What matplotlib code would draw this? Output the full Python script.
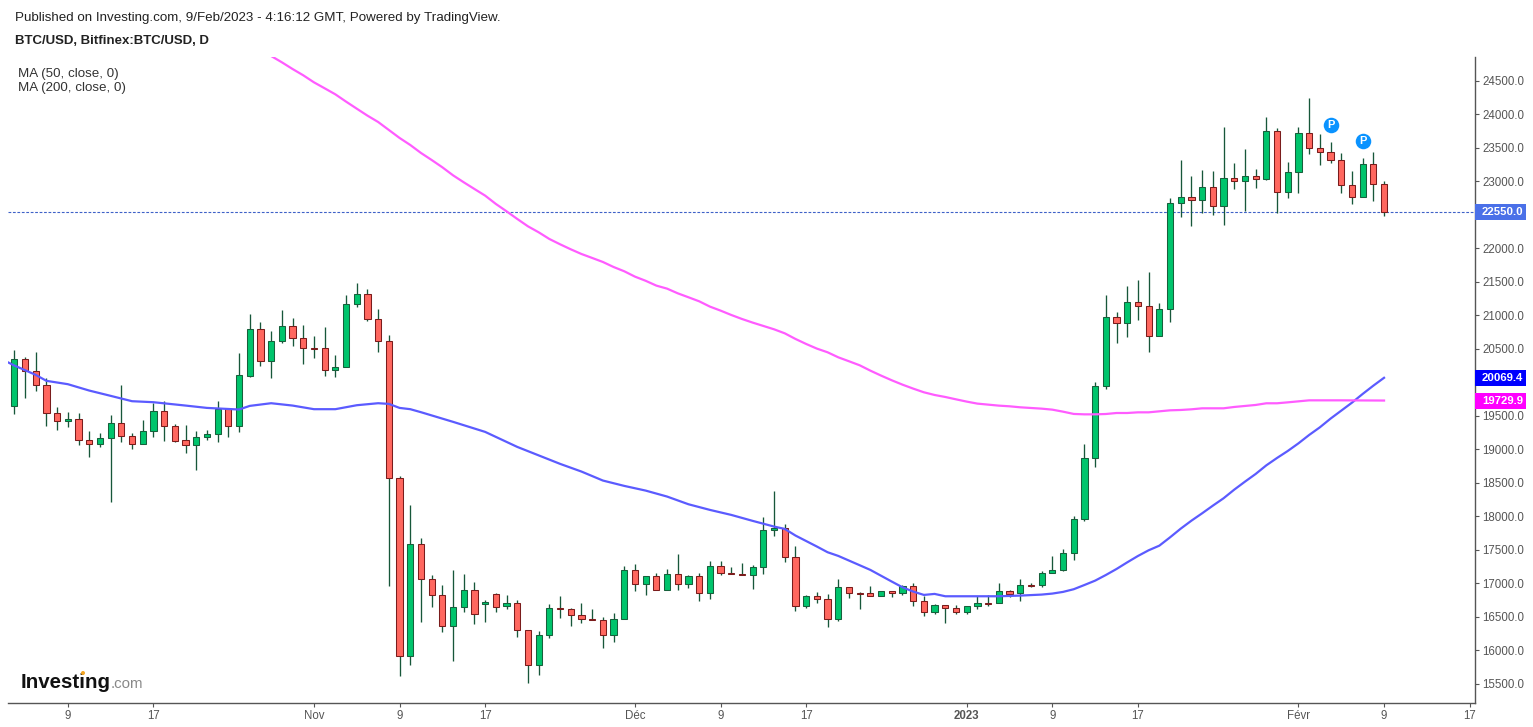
import matplotlib
matplotlib.use("Agg")
import matplotlib.pyplot as plt
from matplotlib.patches import Rectangle, Ellipse

plt.rcParams['font.family'] = ['Liberation Sans', 'DejaVu Sans']

W, H = 1533, 727

# daily candles, 4 Oct 2022 -> 9 Feb 2023
opens = [19645, 20347, 20168, 19959, 19541, 19421, 19451, 19138, 19078, 19168,
         19392, 19197, 19078, 19272, 19571, 19347, 19138, 19063, 19183, 19227,
         19601, 19347, 20103, 20795, 20317, 20616, 20840, 20661, 20511, 20511,
         20183, 20228, 21168, 21318, 20944, 20616, 18570, 15913, 17585, 17063,
         16824, 16361, 16644, 16898, 16689, 16839, 16659, 16704, 16301, 15778,
         16226, 16630, 16615, 16525, 16465, 16450, 16226, 16465, 17197, 16988,
         17107, 16898, 17137, 16988, 17107, 16854, 17257, 17152, 17137, 17122,
         17242, 17794, 17824, 17391, 16660, 16809, 16764, 16466, 16943, 16854,
         16854, 16809, 16884, 16854, 16958, 16734, 16570, 16675, 16630, 16570,
         16660, 16705, 16705, 16884, 16854, 16973, 16973, 17152, 17197, 17451,
         17958, 18869, 19944, 20974, 20885, 21198, 21139, 20691, 21094, 22676,
         22765, 22721, 22915, 22631, 23049, 23004, 23079, 23034, 23751, 22840,
         23139, 23721, 23497, 23437, 23318, 22945, 22765, 23258, 22960]
highs = [20486, 20377, 20452, 20063, 19635, 19561, 19546, 19277, 19247, 19516,
         19964, 19242, 19441, 19700, 19725, 19382, 19367, 19272, 19292, 19725,
         19616, 20442, 21024, 20905, 20770, 21084, 20964, 20860, 20696, 20830,
         20412, 21308, 21482, 21397, 21099, 20710, 18605, 18172, 17675, 17122,
         16973, 17202, 17142, 17023, 16749, 16854, 16824, 16749, 16301, 16286,
         16689, 16814, 16630, 16704, 16615, 16495, 16555, 17257, 17287, 17107,
         17152, 17212, 17436, 17122, 17152, 17331, 17331, 17242, 17301, 17272,
         17988, 18376, 17884, 17556, 16824, 16869, 16839, 17063, 16943, 16879,
         16958, 16894, 16884, 16973, 17003, 16809, 16690, 16675, 16675, 16660,
         16809, 16824, 17003, 16899, 17063, 17008, 17182, 17406, 17511, 18003,
         19078, 20004, 21303, 21049, 21437, 21527, 21646, 21183, 22750, 23318,
         23079, 23169, 23154, 23811, 23273, 23482, 23183, 23960, 23796, 23288,
         23811, 24244, 23706, 23587, 23422, 23154, 23348, 23437, 23004]
lows = [19536, 19775, 19879, 19357, 19297, 19342, 19073, 18894, 19043, 18222,
        19118, 19013, 19078, 19192, 19133, 19118, 18954, 18700, 19148, 19118,
        19192, 19267, 20088, 20238, 20073, 20596, 20551, 20282, 20372, 20103,
        20088, 20228, 21119, 20924, 20447, 16968, 15624, 15788, 16431, 16654,
        16281, 15848, 16580, 16401, 16431, 16580, 16625, 16207, 15520, 15639,
        16192, 16490, 16371, 16416, 16450, 16042, 16132, 16465, 16893, 16834,
        16898, 16898, 16908, 16938, 16744, 16774, 17122, 17137, 17122, 16923,
        17137, 17715, 17327, 16585, 16630, 16704, 16346, 16436, 16779, 16615,
        16809, 16809, 16794, 16834, 16660, 16510, 16540, 16406, 16540, 16540,
        16615, 16660, 16705, 16804, 16734, 16953, 16953, 17152, 17182, 17347,
        17938, 18745, 19909, 20596, 20671, 20925, 20447, 20691, 20895, 22462,
        22342, 22536, 22492, 22357, 22880, 22556, 22895, 23014, 22536, 22746,
        22820, 23402, 23238, 23268, 22820, 22656, 22765, 22701, 22477]
closes = [20347, 20168, 19959, 19541, 19421, 19451, 19138, 19078, 19168, 19392,
          19197, 19078, 19272, 19571, 19347, 19133, 19063, 19183, 19227, 19601,
          19347, 20108, 20795, 20317, 20616, 20840, 20661, 20511, 20506, 20183,
          20228, 21168, 21318, 20944, 20616, 18570, 15913, 17585, 17063, 16824,
          16361, 16644, 16898, 16540, 16719, 16644, 16704, 16301, 15778, 16226,
          16630, 16615, 16525, 16465, 16450, 16226, 16465, 17197, 16988, 17107,
          16898, 17137, 16988, 17107, 16854, 17257, 17152, 17137, 17122, 17242,
          17794, 17824, 17391, 16660, 16809, 16764, 16466, 16943, 16854, 16849,
          16809, 16884, 16854, 16958, 16734, 16570, 16675, 16630, 16570, 16660,
          16705, 16700, 16884, 16849, 16973, 16968, 17152, 17197, 17451, 17958,
          18869, 19944, 20974, 20885, 21198, 21139, 20691, 21094, 22676, 22765,
          22721, 22915, 22631, 23049, 23004, 23079, 23034, 23751, 22840, 23139,
          23721, 23497, 23437, 23318, 22945, 22765, 23258, 22960, 22550]

ma50_days = [-0.55, 0, 2, 3, 5, 7, 9, 11, 13, 16, 18, 21, 22, 24, 26, 28, 30, 32, 34,
             35, 36, 37, 38, 41, 44, 47, 51, 53, 55, 57, 59, 61, 63, 65, 67, 69, 71,
             72, 73, 75, 76, 77, 79, 80, 82, 83, 84, 85, 86, 87, 90, 92, 94, 96, 97,
             98, 99, 100, 101, 102, 103, 104, 105, 106, 107, 108, 109, 110, 111, 112,
             113, 114, 115, 116, 117, 118, 119, 120, 121, 122, 123, 124, 125, 126, 127, 128]
ma50_vals = [20297, 20253, 20113, 20024, 19974, 19879, 19800, 19720, 19705, 19655, 19620,
             19596, 19650, 19690, 19655, 19601, 19601, 19660, 19690, 19680, 19620, 19601,
             19556, 19412, 19262, 19038, 18785, 18670, 18536, 18456, 18386, 18297, 18182,
             18098, 18023, 17934, 17849, 17814, 17715, 17551, 17466, 17411, 17272, 17202,
             17028, 16943, 16879, 16829, 16844, 16809, 16809, 16809, 16819, 16834, 16849,
             16874, 16914, 16977, 17042, 17126, 17216, 17315, 17410, 17495, 17564, 17688,
             17818, 17937, 18047, 18161, 18271, 18400, 18519, 18634, 18763, 18873, 18977,
             19091, 19216, 19330, 19460, 19579, 19698, 19828, 19952, 20069.4]

ma200_days = list(range(24, 122)) + [124, 128]
ma200_vals = [24872, 24778, 24678, 24584, 24479, 24390, 24300, 24191, 24086, 23982,
              23887, 23768, 23649, 23544, 23425, 23320, 23211, 23091, 22987, 22887,
              22788, 22664, 22554, 22440, 22330, 22241, 22141, 22062, 21987, 21917,
              21858, 21798, 21723, 21659, 21579, 21517, 21445, 21400, 21330, 21271,
              21211, 21132, 21072, 21007, 20947, 20893, 20843, 20793, 20733, 20649,
              20574, 20505, 20450, 20375, 20316, 20256, 20176, 20102, 20032, 19967,
              19908, 19853, 19813, 19783, 19748, 19714, 19684, 19669, 19654, 19644,
              19629, 19619, 19609, 19594, 19564, 19530, 19524, 19524, 19529, 19544,
              19544, 19554, 19554, 19569, 19584, 19589, 19599, 19614, 19614, 19614,
              19634, 19649, 19664, 19689, 19689, 19703, 19718, 19733, 19733, 19729.9]

last_price = 22550.0
ma50_last = 20069.4
ma200_last = 19729.9

badge_days = [123, 126]
badge_vals = [23842, 23604]

y_ticks = list(range(15500, 25000, 500))
hidden_y_labels = [20000, 22500]  # sit behind the price tags
x_tick_days = [5, 13, 28, 36, 44, 58, 66, 74, 89, 97, 105, 120, 128, 136]
x_tick_labels = ["9", "17", "Nov", "9", "17", "Déc", "9", "17", "2023", "9", "17", "Févr", "9", "17"]

GREEN, GREEN_EDGE = "#00c46c", "#17603c"
RED, RED_EDGE = "#ff675f", "#7a1c1c"
WICK = "#17573a"
AXIS = "#555555"


def px(x, y):
    return x / W, 1 - y / H


def main():
    fig = plt.figure(figsize=(W / 100, H / 100), dpi=100)
    ax = fig.add_axes([8 / W, 1 - 703 / H, (1475 - 8) / W, (703 - 57) / H])
    ax.set_xlim(-0.59, 136.5)
    ax.set_ylim(15216, 24857)

    days = list(range(len(closes)))
    ax.vlines(days, lows, highs, color=WICK, lw=0.95, zorder=2)
    for d, o, c in zip(days, opens, closes):
        up = c >= o
        ax.add_patch(Rectangle((d - 0.29, min(o, c)), 0.58, abs(c - o),
                               facecolor=GREEN if up else RED,
                               edgecolor=GREEN_EDGE if up else RED_EDGE,
                               lw=0.75, zorder=3))

    ax.plot(ma50_days, ma50_vals, color="#5b5bff", lw=1.6, zorder=4)
    ax.plot(ma200_days, ma200_vals, color="#ff5cff", lw=1.6, zorder=4)
    ax.axhline(last_price, color="#3f62c8", lw=0.8, ls=(0, (2.5, 1.5)), zorder=1)

    ax.scatter(badge_days, badge_vals, s=125, color="#0a93ff", zorder=5, linewidths=0)
    for d, v in zip(badge_days, badge_vals):
        ax.text(d, v, "P", color="white", fontsize=8, fontweight="bold",
                ha="center", va="center", zorder=6)

    for s in ("top", "left"):
        ax.spines[s].set_visible(False)
    for s in ("right", "bottom"):
        ax.spines[s].set_color(AXIS)
        ax.spines[s].set_linewidth(1.0)
    ax.yaxis.tick_right()
    ax.set_yticks(y_ticks)
    ax.set_yticklabels(["" if v in hidden_y_labels else f"{v:.1f}" for v in y_ticks])
    ax.set_xticks(x_tick_days)
    ax.set_xticklabels(x_tick_labels)
    ax.tick_params(axis="both", length=3, width=0.8, color=AXIS, labelcolor=AXIS,
                   labelsize=8.3, pad=2.5)
    ax.tick_params(axis="x", pad=2)
    for lab in ax.get_xticklabels():
        if lab.get_text() == "2023":
            lab.set_fontweight("bold")

    # price tags on the right axis
    tr = ax.get_yaxis_transform()
    for val, col in [(last_price, "#4a70e8"), (ma50_last, "#0000ff"), (ma200_last, "#ff00ff")]:
        ax.add_patch(Rectangle((1.0, val - 119), 51 / (1475 - 8), 238, transform=tr,
                               facecolor=col, edgecolor="none", clip_on=False, zorder=7))
        ax.text(1.0 + 7 / (1475 - 8), val, f"{val:.1f}", transform=tr, color="white",
                fontsize=8.2, fontweight="bold", va="center", ha="left", zorder=8)

    # header text
    x, y = px(15, 18.5)
    fig.text(x, y, "Published on Investing.com, 9/Feb/2023 - 4:16:12 GMT, Powered by TradingView.",
             fontsize=9.6, color="#222222", va="center")
    x, y = px(15, 41.5)
    fig.text(x, y, "BTC/USD, Bitfinex:BTC/USD, D", fontsize=9.5, fontweight="bold",
             color="#222222", va="center")
    x, y = px(18, 74.5)
    fig.text(x, y, "MA (50, close, 0)", fontsize=9.6, color="#333333", va="center")
    x, y = px(18, 88.5)
    fig.text(x, y, "MA (200, close, 0)", fontsize=9.6, color="#333333", va="center")

    # logo
    x, y = px(21, 682)
    fig.text(x, y, "Investing", fontsize=14.8, fontweight="bold", color="#111111", va="center")
    x, y = px(110.5, 684)
    fig.text(x, y, ".com", fontsize=10.8, color="#888888", va="center")
    x, y = px(83, 673)
    fig.add_artist(Ellipse((x, y), 4 / W, 4 / H, transform=fig.transFigure,
                           facecolor="#f5a623", edgecolor="none", zorder=5))

    fig.savefig("out.png", dpi=100)
    plt.close(fig)


if __name__ == "__main__":
    main()
